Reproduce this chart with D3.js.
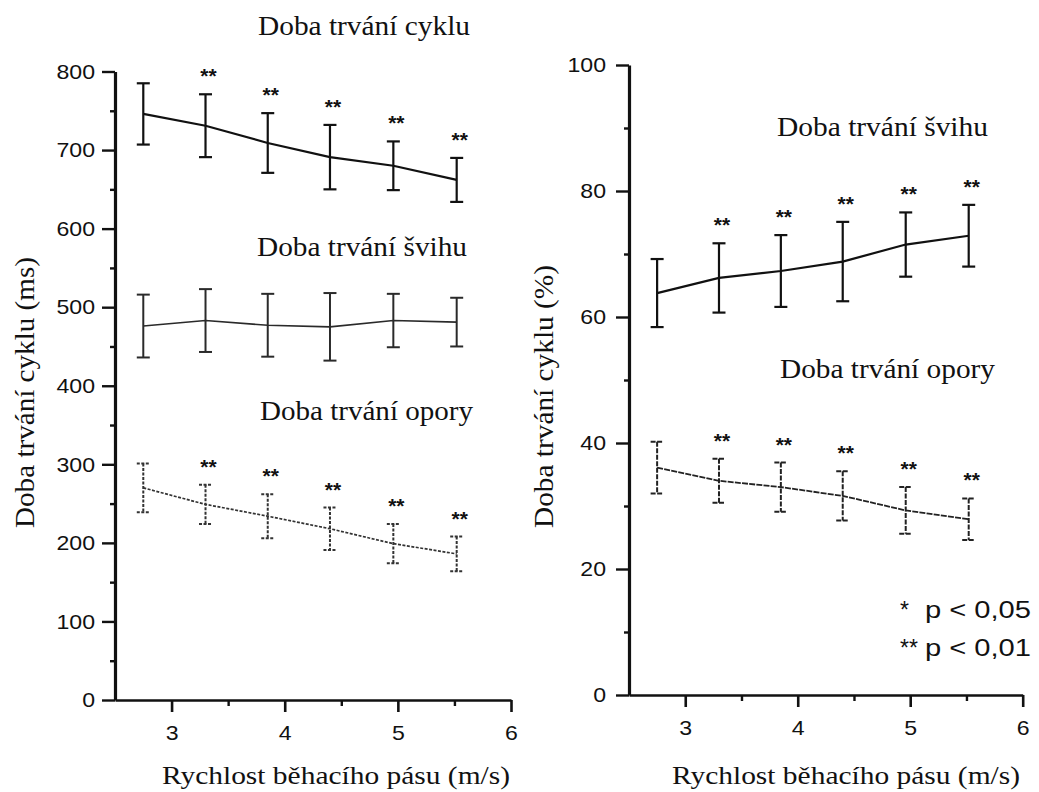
<!DOCTYPE html>
<html>
<head>
<meta charset="utf-8">
<script src="https://cdn.jsdelivr.net/npm/d3@7"></script>
<style>
  html, body { margin: 0; padding: 0; background: #fff; }
  svg { display: block; }
</style>
</head>
<body>
<svg id="chart" width="1039" height="792"></svg>
<script>
// ---------------- DATA ----------------
const speeds = [2.75, 3.3, 3.85, 4.4, 4.96, 5.52];          // m/s
const xTicks = [3, 4, 5, 6];
const xMinorTicks = [3.5, 4.5, 5.5];

// Left panel (ms)
const cycleMs      = [746, 731, 709, 691, 680, 662];
const cycleMsSD    = [39, 40, 38, 41, 31, 28];
const swingMs      = [476, 483, 477, 475, 483, 481];
const swingMsSD    = [40, 40, 40, 43, 34, 31];
const stanceMs     = [270, 249, 234, 218, 199, 186];
const stanceMsSD   = [31, 25, 28, 27, 25, 22];
const leftYTicks   = [0, 100, 200, 300, 400, 500, 600, 700, 800];
const leftYMinor   = [50, 150, 250, 350, 450, 550, 650, 750];

// Right panel (% of cycle)
const swingPct     = [63.8, 66.2, 67.3, 68.8, 71.5, 72.9];
const swingPctSD   = [5.4, 5.5, 5.7, 6.3, 5.1, 4.9];
const stancePct    = [36.1, 34.0, 33.0, 31.6, 29.3, 27.9];
const stancePctSD  = [4.1, 3.5, 3.9, 3.9, 3.7, 3.3];
const rightYTicks  = [0, 20, 40, 60, 80, 100];
const rightYMinor  = [10, 30, 50, 70, 90];

// significance markers
const sigCycle  = ["", "**", "**", "**", "**", "**"];
const sigSwingL = ["", "", "", "", "", ""];
const sigStance = ["", "**", "**", "**", "**", "**"];
const sigRight  = ["", "**", "**", "**", "**", "**"];

const seriesLabels = {
  cycle: "Doba trvání cyklu",
  swing: "Doba trvání švihu",
  stance: "Doba trvání opory"
};
const yTitleLeft = "Doba trvání cyklu (ms)";
const yTitleRight = "Doba trvání cyklu (%)";
const xTitle = "Rychlost běhacího pásu (m/s)";
const legendItems = [["*", "p < 0,05"], ["**", "p < 0,01"]];

// ---------------- DRAW ----------------
const svg = d3.select("#chart");
const SERIF = "'Liberation Serif', 'Times New Roman', serif";
const SANS = "'Liberation Sans', Arial, sans-serif";
const INK = "#111";

function stretchTicks(sel, k) {
  sel.selectAll("text").each(function () {
    const w = this.getComputedTextLength();
    d3.select(this).attr("textLength", w * k).attr("lengthAdjust", "spacingAndGlyphs");
  });
}

function serifText(x, y, txt, len, size, rotate) {
  const t = svg.append("text")
    .attr("font-family", SERIF)
    .attr("font-size", size)
    .attr("fill", INK)
    .attr("textLength", len)
    .attr("lengthAdjust", "spacingAndGlyphs")
    .text(txt);
  if (rotate) {
    t.attr("transform", `translate(${x},${y}) rotate(-90)`);
  } else {
    t.attr("x", x).attr("y", y);
  }
  return t;
}

function panel(cfg) {
  const x = d3.scaleLinear().domain([2.5, 6]).range(cfg.xRange);
  const y = d3.scaleLinear().domain(cfg.yDomain).range(cfg.yRange);
  const g = svg.append("g");

  // minor ticks
  g.append("g").attr("transform", `translate(${cfg.xRange[0]},0)`)
    .call(d3.axisLeft(y).tickValues(cfg.yMinor).tickSize(5).tickFormat("").tickSizeOuter(0))
    .call(s => s.select(".domain").remove())
    .call(s => s.selectAll("line").attr("stroke", INK).attr("stroke-width", 2.4));
  g.append("g").attr("transform", `translate(0,${cfg.yRange[0]})`)
    .call(d3.axisBottom(x).tickValues(xMinorTicks).tickSize(6).tickFormat("").tickSizeOuter(0))
    .call(s => s.select(".domain").remove())
    .call(s => s.selectAll("line").attr("stroke", INK).attr("stroke-width", 2.4));

  // major y axis
  const ya = g.append("g").attr("transform", `translate(${cfg.xRange[0]},0)`)
    .call(d3.axisLeft(y).tickValues(cfg.yTicks).tickSize(cfg.yTickLen).tickPadding(cfg.yPad).tickSizeOuter(0).tickFormat(d3.format("d")));
  ya.select(".domain").attr("stroke", INK).attr("stroke-width", 3.2);
  ya.selectAll("line").attr("stroke", INK).attr("stroke-width", 2.4);
  ya.selectAll("text").attr("font-family", SANS).attr("font-size", 21).attr("fill", INK);
  stretchTicks(ya, 1.1);

  // major x axis
  const xa = g.append("g").attr("transform", `translate(0,${cfg.yRange[0]})`)
    .call(d3.axisBottom(x).tickValues(xTicks).tickSize(12).tickPadding(13).tickSizeOuter(0).tickFormat(d3.format("d")));
  xa.select(".domain").attr("stroke", INK).attr("stroke-width", 2.6);
  xa.selectAll("line").attr("stroke", INK).attr("stroke-width", 2.6);
  xa.selectAll("text").attr("font-family", SANS).attr("font-size", 21).attr("fill", INK);
  stretchTicks(xa, 1.1);

  // series
  cfg.series.forEach(s => {
    const pts = speeds.map((sp, i) => ({ x: sp, m: s.mean[i], sd: s.sd[i], sig: s.sig[i] }));
    const line = d3.line().x(d => x(d.x)).y(d => y(d.m));
    g.append("path").datum(pts)
      .attr("d", line)
      .attr("fill", "none")
      .attr("stroke", s.color)
      .attr("stroke-width", s.width)
      .attr("stroke-dasharray", s.dash || null);

    const bars = g.append("g").selectAll("g").data(pts).join("g")
      .attr("stroke", s.color)
      .attr("stroke-width", s.barWidth)
      .attr("stroke-dasharray", s.barDash || null);
    bars.append("line")
      .attr("x1", d => x(d.x)).attr("x2", d => x(d.x))
      .attr("y1", d => y(d.m + d.sd)).attr("y2", d => y(d.m - d.sd));
    bars.append("line")
      .attr("x1", d => x(d.x) - 6.5).attr("x2", d => x(d.x) + 6.5)
      .attr("y1", d => y(d.m + d.sd)).attr("y2", d => y(d.m + d.sd))
      .attr("stroke-dasharray", null);
    bars.append("line")
      .attr("x1", d => x(d.x) - 6.5).attr("x2", d => x(d.x) + 6.5)
      .attr("y1", d => y(d.m - d.sd)).attr("y2", d => y(d.m - d.sd))
      .attr("stroke-dasharray", null);

    g.append("g").selectAll("text").data(pts.filter(d => d.sig)).join("text")
      .attr("x", d => x(d.x) + 3)
      .attr("y", d => y(d.m + d.sd) - 23 + 12)
      .attr("text-anchor", "middle")
      .attr("font-family", SANS)
      .attr("font-weight", "bold")
      .attr("font-size", 21)
      .attr("fill", INK)
      .text(d => d.sig);
  });
}

// Left panel
panel({
  xRange: [115, 511],
  yDomain: [0, 800],
  yRange: [700, 71.5],
  yTicks: leftYTicks,
  yMinor: leftYMinor,
  yTickLen: 13,
  yPad: 7,
  series: [
    { mean: cycleMs, sd: cycleMsSD, sig: sigCycle, color: INK, width: 2.2, barWidth: 2.2 },
    { mean: swingMs, sd: swingMsSD, sig: sigSwingL, color: "#2a2a2a", width: 1.6, barWidth: 2 },
    { mean: stanceMs, sd: stanceMsSD, sig: sigStance, color: "#333", width: 1.7, dash: "3,1.5", barWidth: 2, barDash: "3,1.5" }
  ]
});

// Right panel
panel({
  xRange: [629, 1022.7],
  yDomain: [0, 100],
  yRange: [695, 65],
  yTicks: rightYTicks,
  yMinor: rightYMinor,
  yTickLen: 13,
  yPad: 10,
  series: [
    { mean: swingPct, sd: swingPctSD, sig: sigRight, color: INK, width: 2.2, barWidth: 2.2 },
    { mean: stancePct, sd: stancePctSD, sig: sigRight, color: "#222", width: 1.8, dash: "6,1.2", barWidth: 2, barDash: "5,1.5" }
  ]
});

// Series labels
serifText(258, 35, seriesLabels.cycle, 212, 27);
serifText(257, 256, seriesLabels.swing, 210, 27);
serifText(260, 420, seriesLabels.stance, 213, 27);
serifText(777, 136, seriesLabels.swing, 211, 27);
serifText(780, 378, seriesLabels.stance, 215, 27);

// Axis titles
serifText(162, 784, xTitle, 348, 26);
serifText(672, 784, xTitle, 348, 26);
serifText(34, 528, yTitleLeft, 271, 28, true);
serifText(553, 528, yTitleRight, 263, 28, true);

// Legend
legendItems.forEach((it, i) => {
  const by = 618 + i * 38;
  svg.append("text").attr("x", 900).attr("y", by)
    .attr("font-family", SANS).attr("font-size", 23).attr("fill", INK)
    .text(it[0]);
  svg.append("text").attr("x", 925).attr("y", by)
    .attr("font-family", SANS).attr("font-size", 23).attr("fill", INK)
    .attr("textLength", 106).attr("lengthAdjust", "spacingAndGlyphs")
    .text(it[1]);
});
</script>
</body>
</html>
